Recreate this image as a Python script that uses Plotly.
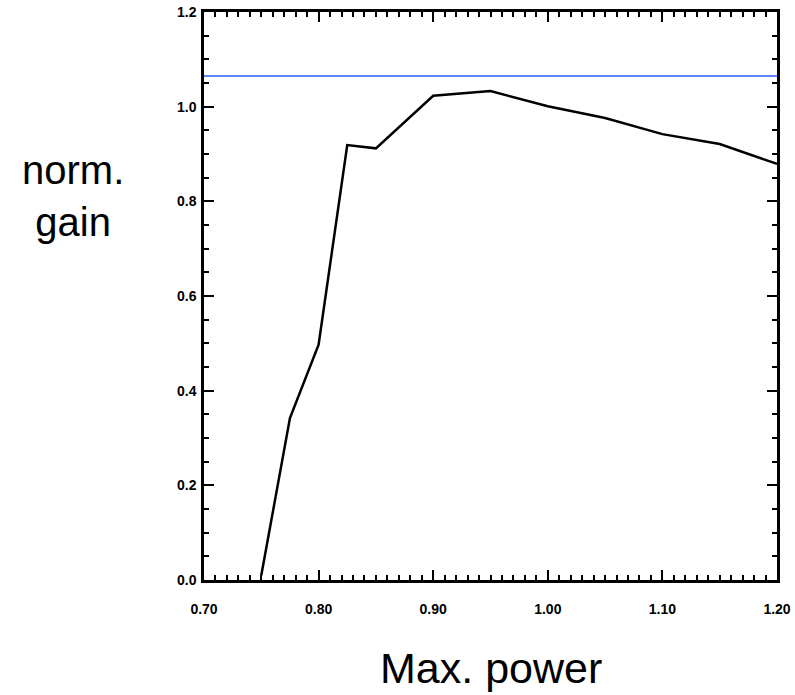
import plotly.graph_objects as go

max_power = [0.75, 0.775, 0.80, 0.825, 0.85, 0.90, 0.95, 1.00, 1.05, 1.10, 1.15, 1.20]
norm_gain = [0.01, 0.342, 0.497, 0.919, 0.912, 1.023, 1.033, 1.001, 0.976, 0.942, 0.921, 0.879]
ref_x = [0.70, 1.20]
ref_y = [1.065, 1.065]

x_tickvals = [0.70, 0.80, 0.90, 1.00, 1.10, 1.20]
x_ticktext = ["0.70", "0.80", "0.90", "1.00", "1.10", "1.20"]
y_tickvals = [0.0, 0.2, 0.4, 0.6, 0.8, 1.0, 1.2]
y_ticktext = ["0.0", "0.2", "0.4", "0.6", "0.8", "1.0", "1.2"]

fig = go.Figure()
fig.add_trace(go.Scatter(x=ref_x, y=ref_y, mode="lines",
                         line=dict(color="#2a5cff", width=1.5), showlegend=False))
fig.add_trace(go.Scatter(x=max_power, y=norm_gain, mode="lines",
                         line=dict(color="black", width=2.5), showlegend=False))

tickfont = dict(family="Liberation Sans, Arial", size=14, color="black", weight="bold")

fig.update_xaxes(range=[0.70, 1.20], tickvals=x_tickvals, ticktext=x_ticktext,
                 ticks="inside", ticklen=10, tickwidth=2, tickcolor="black",
                 minor=dict(dtick=0.01, ticks="inside", ticklen=5, tickwidth=2, tickcolor="black"),
                 showline=True, linewidth=2.5, linecolor="black", mirror="allticks",
                 showgrid=False, zeroline=False, tickfont=tickfont, ticklabelstandoff=14,
                 automargin=False)
fig.update_yaxes(range=[0.0, 1.2], tickvals=y_tickvals, ticktext=y_ticktext,
                 ticks="inside", ticklen=10, tickwidth=2, tickcolor="black",
                 minor=dict(dtick=0.05, ticks="inside", ticklen=5, tickwidth=2, tickcolor="black"),
                 showline=True, linewidth=2.5, linecolor="black", mirror="allticks",
                 showgrid=False, zeroline=False, tickfont=tickfont, ticklabelstandoff=2,
                 automargin=False)

top, bottom = 12, 115
ph = 695 - top - bottom
fig.add_annotation(text="norm.<br>gain", xref="paper", yref="paper",
                   x=(73 - 204) / 572, y=(580 - 196) / ph, xanchor="center", yanchor="middle",
                   showarrow=False, align="center",
                   font=dict(family="Liberation Sans, Arial", size=40, color="black"))
fig.add_annotation(text="Max. power", xref="paper", yref="paper",
                   x=0.5, y=(580 - 668) / ph, xanchor="center", yanchor="middle",
                   showarrow=False,
                   font=dict(family="Liberation Sans, Arial", size=43, color="black"))

fig.update_layout(width=795, height=695, margin=dict(l=204, r=18, t=top, b=bottom),
                  plot_bgcolor="white", paper_bgcolor="white")
fig.write_html("out.html")
